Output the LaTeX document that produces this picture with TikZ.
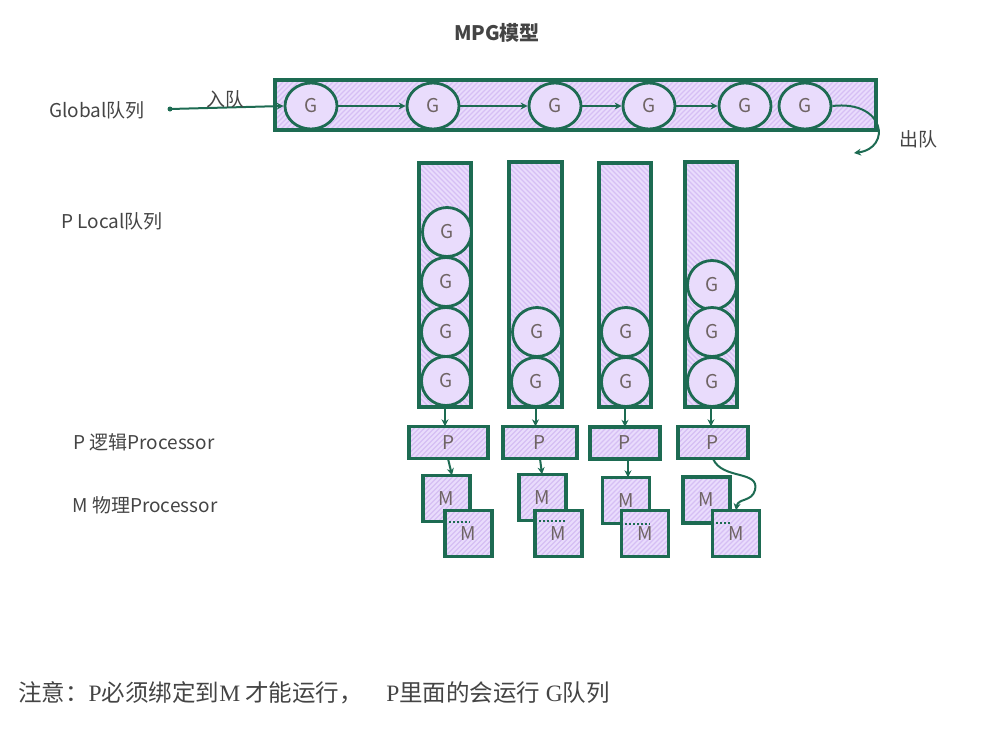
\documentclass[tikz,border=0pt]{standalone}
\usepackage{fontspec}
\setmainfont{Noto Sans CJK SC}
\newfontfamily\ser{Liberation Serif}
\newfontfamily\cjk{Noto Sans CJK SC}
\usetikzlibrary{shapes.geometric,arrows.meta,calc}
\definecolor{edge}{HTML}{1D6B52}
\definecolor{lav}{HTML}{E9DCFC}
\definecolor{hatch}{HTML}{D6BFF4}
\definecolor{txt}{HTML}{444444}
\definecolor{gtxt}{HTML}{6F6464}
\tikzset{
  hne/.style={path picture={
    \coordinate (hsw) at (path picture bounding box.south west);
    \foreach \k in {0,5,...,900} {\draw[hatch, line width=1.2pt] ($(hsw)+(\k pt-260pt,0pt)$) -- ++(260pt,260pt);}
  }},
  hnw/.style={path picture={
    \coordinate (hsw) at (path picture bounding box.south west);
    \foreach \k in {0,5,...,330} {\draw[hatch, line width=1.2pt] ($(hsw)+(\k pt,0pt)$) -- ++(-260pt,260pt);}
  }},
  boxne/.style={fill=lav, hne, postaction={draw=edge, line width=3.3pt}, inner sep=0pt, text=gtxt, font=\fontsize{19}{19}\selectfont},
  boxnw/.style={fill=lav, hnw, postaction={draw=edge, line width=3.3pt}, inner sep=0pt},
  gnode/.style={ellipse, draw=edge, line width=2.8pt, fill=lav, minimum width=52pt, minimum height=46pt, inner sep=0pt, text=gtxt, font=\fontsize{19}{19}\selectfont},
  lgnode/.style={circle, draw=edge, line width=2.8pt, fill=lav, minimum size=49pt, inner sep=0pt, text=gtxt, font=\fontsize{19}{19}\selectfont},
  pbox/.style={boxne, minimum width=74pt, minimum height=32pt},
  mbox/.style={boxne, minimum width=47pt, minimum height=46pt},
  lbl/.style={text=txt, font=\fontsize{19}{22}\selectfont, inner sep=0pt},
  arr/.style={draw=edge, line width=2pt, -{Stealth[length=7pt,width=7pt]}},
}
\begin{document}
\begin{tikzpicture}[x=1pt,y=-1pt]
\useasboundingbox (0,0) rectangle (995,728);
\node[font=\bfseries\fontsize{20}{22}\selectfont, text=txt] (title) at (497,33) {MPG模型};
% labels
\node[lbl] (lglobal) at (97,110) {Global队列};
\node[lbl] (llocal) at (112,221) {P Local队列};
\node[lbl] (lp) at (144,442) {P 逻辑Processor};
\node[lbl] (lm) at (145,505) {M 物理Processor};
% global queue
\node[boxne, minimum width=601pt, minimum height=50pt] (gbar) at (575.5,105) {};
\node[gnode] (g1) at (311,106) {G};
\node[gnode] (g2) at (433,106) {G};
\node[gnode] (g3) at (555,106) {G};
\node[gnode] (g4) at (649,106) {G};
\node[gnode] (g5) at (745,106) {G};
\node[gnode] (g6) at (805,106) {G};
\draw[arr] (g1) -- (g2);
\draw[arr] (g2) -- (g3);
\draw[arr] (g3) -- (g4);
\draw[arr] (g4) -- (g5);
\fill[edge] (170,109) circle (2.5pt) coordinate (in);
\draw[arr] (in) -- (g1.west);
\node[lbl] (lin) at (225,99) {入队};
\coordinate (out) at (854,153);
\draw[arr] (g6.east) .. controls (885,100) and (892,148) .. (out);
\node[lbl] (lout) at (918,139) {出队};
% local queues
\node[boxnw, minimum width=52pt, minimum height=244pt] (c1) at (445,285) {};
\node[boxnw, minimum width=53pt, minimum height=245pt] (c2) at (535.5,284.5) {};
\node[boxnw, minimum width=52pt, minimum height=244pt] (c3) at (625,285) {};
\node[boxnw, minimum width=52pt, minimum height=245pt] (c4) at (711,284.5) {};
\node[lgnode] (a1) at (447,232) {G};
\node[lgnode] (a2) at (446,282) {G};
\node[lgnode] (a3) at (446,332) {G};
\node[lgnode] (a4) at (446,381) {G};
\node[lgnode] (b1) at (537,332) {G};
\node[lgnode] (b2) at (536,382) {G};
\node[lgnode] (d1) at (626,332) {G};
\node[lgnode] (d2) at (626,382) {G};
\node[lgnode] (e1) at (712,285) {G};
\node[lgnode] (e2) at (712,332) {G};
\node[lgnode] (e3) at (712,382) {G};
% P boxes
\node[pbox, minimum width=79pt] (p1) at (448.5,442.5) {P};
\node[pbox] (p2) at (540,442.5) {P};
\node[pbox, minimum width=70pt] (p3) at (625,443) {P};
\node[pbox, minimum width=70pt] (p4) at (713,442.5) {P};
\draw[arr] (c1.south) -- (p1.north -| c1.south);
\draw[arr] (c2.south) -- (p2.north -| c2.south);
\draw[arr] (c3.south) -- (p3.north -| c3.south);
\draw[arr] (c4.south) -- (p4.north -| c4.south);
% M boxes
\node[mbox] (m1) at (446.5,498.5) {M};
\node[mbox] (n1) at (468.5,533.5) {M};
\node[mbox] (m2) at (542.5,497.5) {M};
\node[mbox] (n2) at (558.5,533.5) {M};
\node[mbox] (m3) at (626,500.5) {M};
\node[mbox] (n3) at (645,533.5) {M};
\node[mbox] (m4) at (706.5,500) {M};
\node[mbox] (n4) at (736,533.5) {M};
\draw[edge, line width=1.6pt, dash pattern=on 2pt off 2pt] (m1.south west -| n1.west) -- (m1.south east);
\draw[edge, line width=1.6pt, dash pattern=on 2pt off 2pt] (m2.south west -| n2.west) -- (m2.south east);
\draw[edge, line width=1.6pt, dash pattern=on 2pt off 2pt] (m3.south west -| n3.west) -- (m3.south east);
\draw[edge, line width=1.6pt, dash pattern=on 2pt off 2pt] (m4.south west -| n4.west) -- (m4.south east);
\draw[arr] (p1.south -| 448,0) -- (m1.north -| 452,0);
\draw[arr] (p2.south -| 540,0) -- (m2.north -| 542,0);
\draw[arr] (p3.south -| 628,0) -- (m3.north -| 628,0);
\draw[arr] (p4.south -| 713,0) .. controls (722,480) and (760,470) .. (755,490) .. controls (752,502) and (738,498) .. (n4.north -| 736,0);
% note
\node[anchor=west, inner sep=0pt, text=txt, font=\fontsize{23.5}{26}\selectfont] (note) at (18,693)
  {注意：{\ser P}必须绑定到{\ser M} 才能运行，\quad{\ser P}里面的会运行 {\ser G}队列};
\end{tikzpicture}
\end{document}
